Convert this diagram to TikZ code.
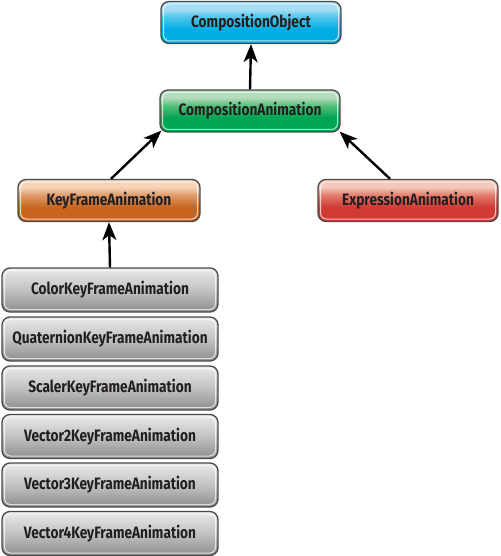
\documentclass[tikz,border=0pt]{standalone}
\usepackage{fontspec}
\newfontfamily\boxfont[FakeStretch=0.83]{Fira Sans}
\usetikzlibrary{arrows.meta}
\definecolor{txt}{HTML}{231F20}
\definecolor{edge}{HTML}{4A4A4A}
\definecolor{cyanL}{HTML}{A6DEF4}\definecolor{cyanM}{HTML}{4CC4EC}\definecolor{cyanD}{HTML}{00AEE4}
\definecolor{grnL}{HTML}{B4DDBC}\definecolor{grnM}{HTML}{52BC78}\definecolor{grnD}{HTML}{00A551}
\definecolor{orgL}{HTML}{F6D4BA}\definecolor{orgM}{HTML}{DF9A66}\definecolor{orgD}{HTML}{C8641E}
\definecolor{redL}{HTML}{F4C8BA}\definecolor{redM}{HTML}{E27A6A}\definecolor{redD}{HTML}{D03A33}
\definecolor{gryL}{HTML}{EAEAEA}\definecolor{gryM}{HTML}{C2C2C2}\definecolor{gryD}{HTML}{8C8C8C}
\pgfdeclareverticalshading{cyanshade}{100bp}{color(0bp)=(cyanD); color(25bp)=(cyanD); color(42bp)=(cyanD); color(56bp)=(cyanM); color(66bp)=(cyanL); color(75bp)=(cyanL); color(100bp)=(cyanL)}
\pgfdeclareverticalshading{grnshade}{100bp}{color(0bp)=(grnD); color(25bp)=(grnD); color(42bp)=(grnD); color(56bp)=(grnM); color(66bp)=(grnL); color(75bp)=(grnL); color(100bp)=(grnL)}
\pgfdeclareverticalshading{orgshade}{100bp}{color(0bp)=(orgD); color(25bp)=(orgD); color(42bp)=(orgD); color(56bp)=(orgM); color(66bp)=(orgL); color(75bp)=(orgL); color(100bp)=(orgL)}
\pgfdeclareverticalshading{redshade}{100bp}{color(0bp)=(redD); color(25bp)=(redD); color(42bp)=(redD); color(56bp)=(redM); color(66bp)=(redL); color(75bp)=(redL); color(100bp)=(redL)}
\pgfdeclareverticalshading{gryshade}{100bp}{color(0bp)=(gryD); color(25bp)=(gryD); color(50bp)=(gryM); color(75bp)=(gryL); color(100bp)=(gryL)}
\tikzset{
  cls/.style={draw=edge, line width=1.3pt, rounded corners=8pt, inner sep=0pt,
    font=\boxfont\bfseries\fontsize{16.5}{18}\selectfont, text=txt,
    path picture={\draw[white, opacity=0.7, line width=1pt, rounded corners=6pt]
      ([shift={(2.5pt,-2.5pt)}]path picture bounding box.north west) rectangle
      ([shift={(-2.5pt,2.5pt)}]path picture bounding box.south east);}},
  topbox/.style={cls, minimum width=180pt, minimum height=42pt},
  subbox/.style={cls, minimum width=216pt, minimum height=44pt, shading=gryshade},
  inh/.style={-{Stealth[length=18pt,width=14pt,inset=5pt]}, line width=2.4pt, draw=black}
}
\begin{document}
\begin{tikzpicture}[x=1pt,y=-1pt]
\useasboundingbox (0,0) rectangle (500,556);
\node[topbox, shading=cyanshade] (co) at (251,22.5) {CompositionObject};
\node[topbox, shading=grnshade] (ca) at (250,111) {CompositionAnimation};
\node[topbox, shading=orgshade, minimum width=182pt] (kf) at (109,200.5) {KeyFrameAnimation};
\node[topbox, shading=redshade] (ea) at (408,200.5) {ExpressionAnimation};
\node[subbox] (c1) at (110,290) {ColorKeyFrameAnimation};
\node[subbox] (c2) at (110,339) {QuaternionKeyFrameAnimation};
\node[subbox] (c3) at (110,388) {ScalerKeyFrameAnimation};
\node[subbox] (c4) at (110,436.5) {Vector2KeyFrameAnimation};
\node[subbox] (c5) at (110,485) {Vector3KeyFrameAnimation};
\node[subbox] (c6) at (110,533.5) {Vector4KeyFrameAnimation};
\coordinate (caL) at ([shift={(2,-2)}]ca.south west);
\coordinate (caR) at ([shift={(-1,-1)}]ca.south east);
\coordinate (eaT) at ([xshift=-18]ea.north);
\coordinate (kfT) at ([xshift=2]kf.north);
\draw[inh] (ca.north) -- (co.south);
\draw[inh] (kfT) -- (caL);
\draw[inh] (eaT) -- (caR);
\draw[inh] (c1.north) -- (kf.south);
\end{tikzpicture}
\end{document}
